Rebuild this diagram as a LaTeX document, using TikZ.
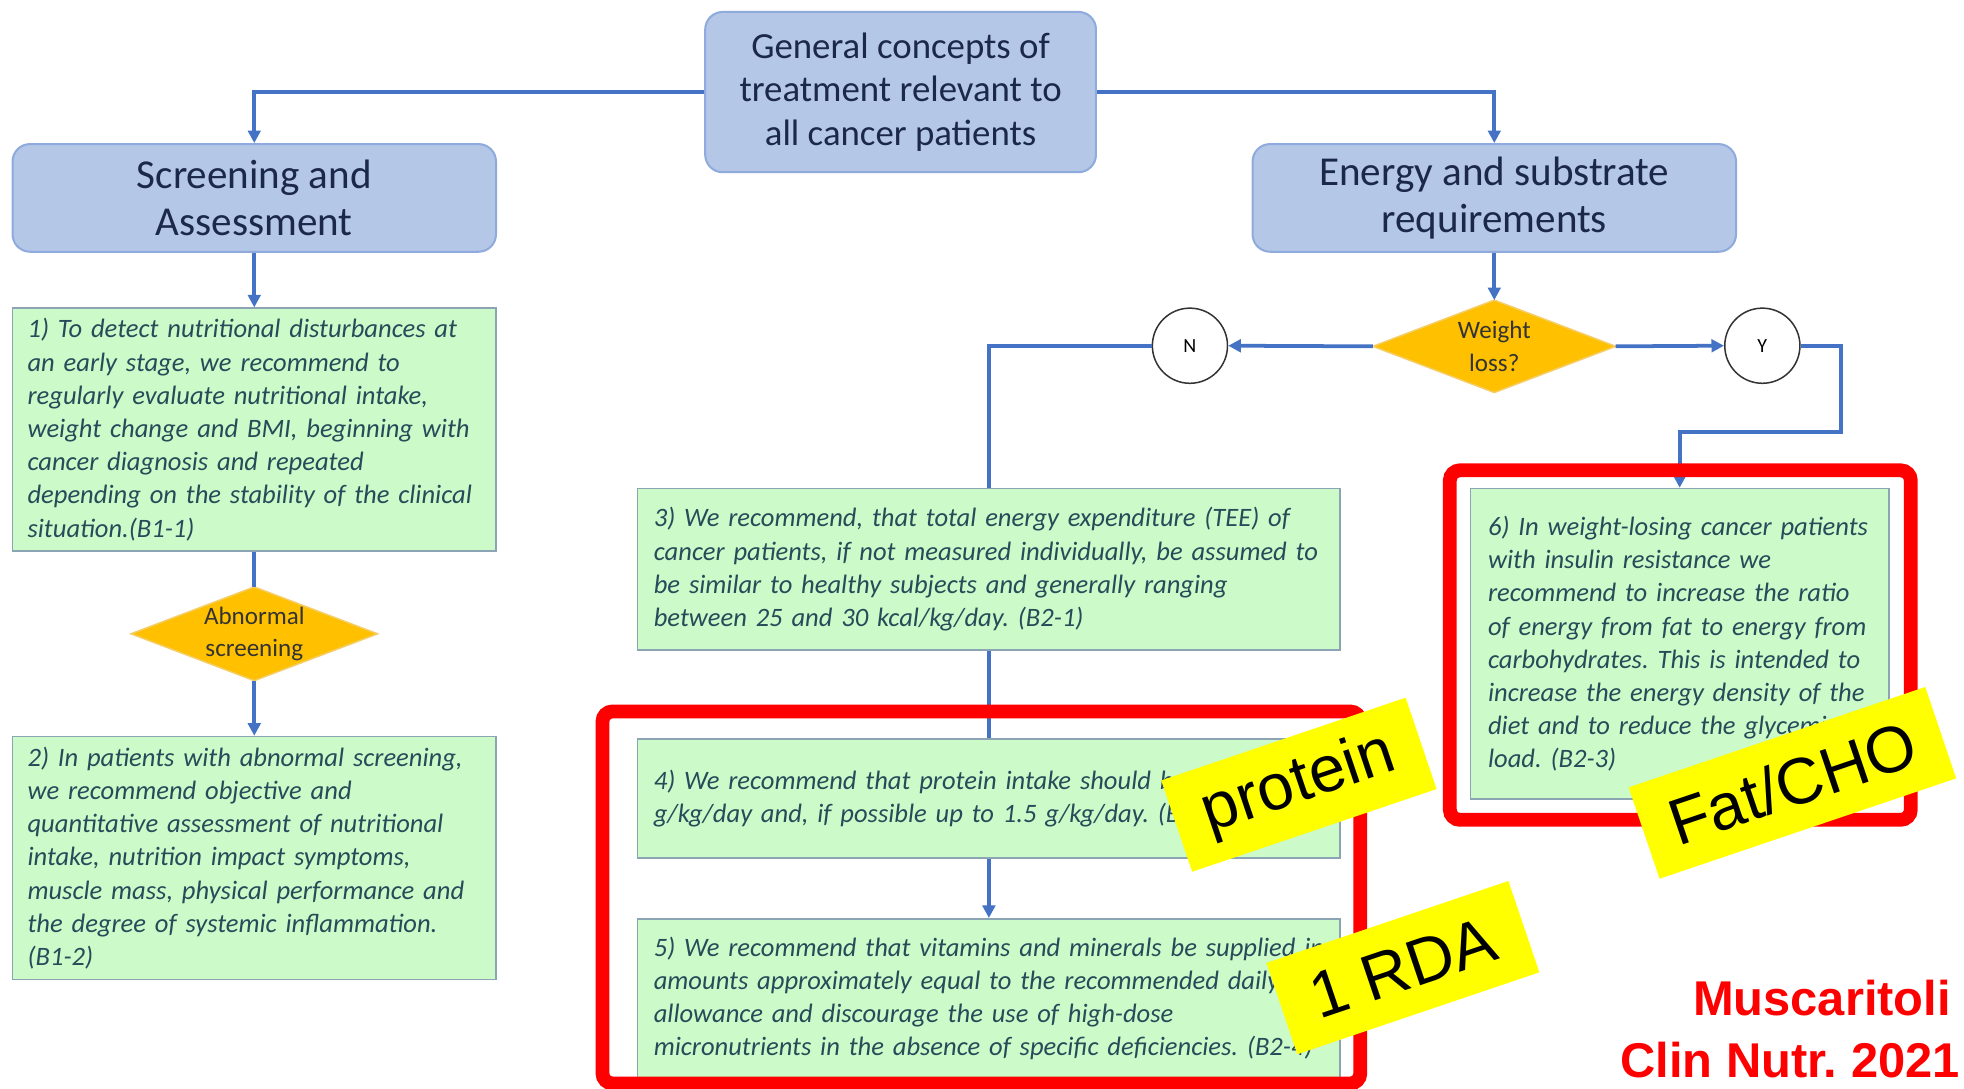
\documentclass[tikz,border=0pt]{standalone}
\usepackage{fontspec}
\setmainfont{Carlito}
\newfontfamily\arialf{Liberation Sans}
\usetikzlibrary{shapes.geometric,arrows.meta,backgrounds}
\definecolor{hfill}{RGB}{180,199,231}
\definecolor{hbord}{RGB}{143,170,220}
\definecolor{htext}{RGB}{28,40,72}
\definecolor{gfill}{RGB}{204,250,200}
\definecolor{gbord}{RGB}{140,165,180}
\definecolor{gtext}{RGB}{40,75,90}
\definecolor{conn}{RGB}{68,114,196}
\definecolor{dfill}{RGB}{255,192,0}
\definecolor{dbord}{RGB}{245,205,100}
\definecolor{redc}{RGB}{255,0,0}
\definecolor{yel}{RGB}{255,255,0}
\newcommand{\lineb}[1]{\mbox{#1}}
\frenchspacing
\begin{document}
\begin{tikzpicture}[x=0.5pt,y=-0.5pt,
  hbox/.style={draw=hbord, line width=0.8pt, fill=hfill, rounded corners=7pt, align=center, text=htext, inner sep=0pt},
  gbox/.style={draw=gbord, line width=0.6pt, fill=gfill, align=left, text=gtext, inner xsep=6pt, inner ysep=0pt, font=\itshape\fontsize{10.6}{13.25}\selectfont},
  dia/.style={rectangle, inner sep=0pt, align=center, font=\fontsize{10}{13}\selectfont, text=black!80},
  diashape/.style={draw=dbord, fill=dfill, line width=0.6pt},
  circ/.style={circle, draw=black!80, fill=white, line width=0.6pt, minimum size=30pt, inner sep=0pt, font=\fontsize{8}{9}\selectfont},
  ln/.style={draw=conn, line width=1.5pt},
  arr/.style={ln, -{Triangle[length=5pt,width=5pt]}},
  frame/.style={draw=redc, line width=5.5pt, rounded corners=4pt},
  sticker/.style={fill=yel, inner sep=0pt, rotate=18.7, minimum height=38.5pt, font=\arialf\fontsize{26}{30}\selectfont, text=black},
  cite/.style={text=redc, font=\arialf\bfseries\fontsize{19.5}{24.5}\selectfont, inner sep=0pt}
]
\useasboundingbox (0,0) rectangle (1568,869);
\begin{pgfonlayer}{background}
\fill[white] (0,0) rectangle (1568,869);
\end{pgfonlayer}

\node[hbox, minimum width=156pt, minimum height=64pt, font=\fontsize{14.7}{17.25}\selectfont] (gen) at (719,73.5) {General concepts of\\treatment relevant to\\all cancer patients};
\node[hbox, minimum width=193pt, minimum height=43pt, font=\fontsize{16.4}{19}\selectfont] (scr) at (203,158) {Screening and\\Assessment};
\node[hbox, minimum width=193pt, minimum height=43pt, font=\fontsize{16.4}{19}\selectfont] (ene) at (1193,158) {Energy and substrate\\requirements};

\node[gbox, text width=181pt, minimum height=97pt] (b1) at (203,343) {\lineb{1) To detect nutritional disturbances at}\\\lineb{an early stage, we recommend to}\\\lineb{regularly evaluate nutritional intake,}\\\lineb{weight change and BMI, beginning with}\\\lineb{cancer diagnosis and repeated}\\\lineb{depending on the stability of the clinical}\\\lineb{situation.(B1-1)}};
\node[dia, minimum width=98pt, minimum height=37pt] (ab) at (203,506) {Abnormal\\screening};
\node[gbox, text width=181pt, minimum height=97pt] (b2) at (203,685) {\lineb{2) In patients with abnormal screening,}\\\lineb{we recommend objective and}\\\lineb{quantitative assessment of nutritional}\\\lineb{intake, nutrition impact symptoms,}\\\lineb{muscle mass, physical performance and}\\\lineb{the degree of systemic inflammation.}\\\lineb{(B1-2)}};

\node[dia, minimum width=96.5pt, minimum height=36.5pt] (wl) at (1193,276.5) {Weight\\loss?};
\begin{pgfonlayer}{background}
\filldraw[diashape] (ab.north) -- (ab.east) -- (ab.south) -- (ab.west) -- cycle;
\filldraw[diashape] (wl.north) -- (wl.east) -- (wl.south) -- (wl.west) -- cycle;
\end{pgfonlayer}
\node[circ] (N) at (950,276) {N};
\node[circ] (Y) at (1407,276) {Y};

\node[gbox, inner xsep=6.5pt, text width=267.5pt, minimum height=64.5pt] (b3) at (789.5,454.5) {\lineb{3) We recommend, that total energy expenditure (TEE) of}\\\lineb{cancer patients, if not measured individually, be assumed to}\\\lineb{be similar to healthy subjects and generally ranging}\\\lineb{between 25 and 30 kcal/kg/day. (B2-1)}};
\node[gbox, inner xsep=6.5pt, text width=267.5pt, minimum height=47.5pt] (b4) at (789.5,637.5) {\lineb{4) We recommend that protein intake should be above 1}\\\lineb{g/kg/day and, if possible up to 1.5 g/kg/day. (B2-2)}};
\node[gbox, inner xsep=6.5pt, text width=267.5pt, minimum height=63.5pt] (b5) at (789.5,797) {\lineb{5) We recommend that vitamins and minerals be supplied in}\\\lineb{amounts approximately equal to the recommended daily}\\\lineb{allowance and discourage the use of high-dose}\\\lineb{micronutrients in the absence of specific deficiencies. (B2-4)}};
\node[gbox, inner xsep=7pt, text width=153pt, minimum height=124pt] (b6) at (1341,514) {\lineb{6) In weight-losing cancer patients}\\\lineb{with insulin resistance we}\\\lineb{recommend to increase the ratio}\\\lineb{of energy from fat to energy from}\\\lineb{carbohydrates. This is intended to}\\\lineb{increase the energy density of the}\\\lineb{diet and to reduce the glycemic}\\\lineb{load. (B2-3)}};

\draw[arr] (gen.west) -| (scr.north);
\draw[arr] (gen.east) -| (ene.north);
\draw[arr] (scr.south) -- (b1.north);
\draw[ln] (b1.south) -- (ab.north);
\draw[arr] (ab.south) -- (b2.north);
\draw[arr] (ene.south) -- (wl.north);
\draw[arr] (wl.west) -- (N.east);
\draw[arr] (wl.east) -- (Y.west);
\draw[ln] (N.west) -| (b3.north);
\coordinate (yc1) at (1470,276);
\coordinate (yc2) at (1470,345);
\draw[arr] (Y.east) -- (yc1) -- (yc2) -| (b6.north);
\draw[ln] (b3.south) -- (b4.north);
\draw[arr] (b4.south) -- (b5.north);

\draw[frame] (481,568) rectangle (1086,865);
\draw[frame] (1157.5,375.5) rectangle (1525.5,654.5);

\node[sticker, minimum width=103pt] (st1) at (1037,626.5) {protein};
\node[sticker, minimum width=102pt] (st2) at (1120,772.5) {1 RDA};
\node[sticker, minimum width=125pt] (st3) at (1431,625) {Fat/CHO};

\node[cite, anchor=base east] (cit1) at (1558,811) {Muscaritoli};
\node[cite, anchor=base east] (cit2) at (1565,860) {Clin Nutr. 2021};
\end{tikzpicture}
\end{document}
